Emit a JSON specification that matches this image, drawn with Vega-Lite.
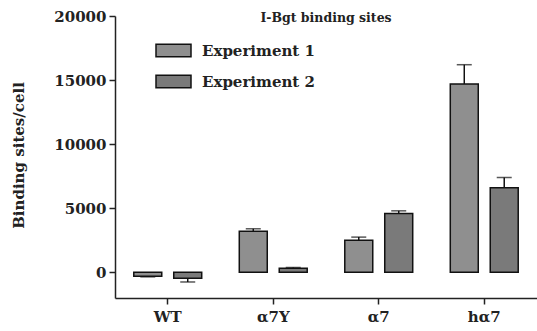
{
  "$schema": "https://vega.github.io/schema/vega-lite/v6.json",
  "autosize": "none",
  "width": 422,
  "height": 282,
  "padding": {"left": 115, "top": 16, "right": 0, "bottom": 33},
  "background": "white",
  "config": {
    "view": {"stroke": null},
    "font": "DejaVu Serif",
    "axis": {"labelFont": "DejaVu Serif", "titleFont": "DejaVu Serif", "labelFontWeight": "bold", "titleFontWeight": "bold", "labelColor": "#222", "titleColor": "#222", "domainColor": "#222", "tickColor": "#222", "domainWidth": 1.5, "tickWidth": 1.5, "grid": false}
  },
  "title": {"text": "I-Bgt binding sites", "font": "DejaVu Serif", "fontSize": 12.5, "fontWeight": "bold", "color": "#222", "anchor": "middle", "orient": "bottom", "offset": -306, "baseline": "middle"},
  "data": {"values": [
    {"cell": "WT", "exp": "Experiment 1", "value": -300, "end": -350},
    {"cell": "WT", "exp": "Experiment 2", "value": -450, "end": -750},
    {"cell": "α7Y", "exp": "Experiment 1", "value": 3200, "end": 3400},
    {"cell": "α7Y", "exp": "Experiment 2", "value": 330, "end": 380},
    {"cell": "α7", "exp": "Experiment 1", "value": 2500, "end": 2750},
    {"cell": "α7", "exp": "Experiment 2", "value": 4600, "end": 4800},
    {"cell": "hα7", "exp": "Experiment 1", "value": 14700, "end": 16200},
    {"cell": "hα7", "exp": "Experiment 2", "value": 6600, "end": 7400}
  ]},
  "encoding": {
    "x": {"field": "cell", "type": "nominal", "sort": null,
      "scale": {"paddingInner": 0, "paddingOuter": 0},
      "axis": {"title": null, "labelAngle": 0, "labelFontSize": 15, "labelPadding": 5, "tickSize": 6}},
    "xOffset": {"field": "exp", "type": "nominal", "scale": {"paddingInner": 0.3, "paddingOuter": 0.47}}
  },
  "layer": [
    {
      "mark": {"type": "bar", "stroke": "#111", "strokeWidth": 1.5},
      "encoding": {
        "y": {"field": "value", "type": "quantitative",
          "scale": {"domain": [-2000, 20000], "nice": false},
          "axis": {"title": "Binding sites/cell", "values": [0, 5000, 10000, 15000, 20000], "format": "d", "labelFontSize": 15, "titleFontSize": 15, "tickSize": 6, "labelPadding": 3, "titleX": -97, "titleY": 139, "titleAngle": -90, "titleAlign": "center", "titleBaseline": "middle"}},
        "fill": {"field": "exp", "type": "nominal",
          "scale": {"range": ["#8f8f8f", "#7a7a7a"]},
          "legend": {"title": null, "orient": "none", "legendX": 40, "legendY": 27, "symbolType": "M-1,-0.36H1V0.36H-1Z", "symbolSize": 1225, "symbolStrokeColor": "#111", "symbolStrokeWidth": 1.5, "labelFont": "DejaVu Serif", "labelFontSize": 15, "labelFontWeight": "bold", "labelColor": "#222", "labelOffset": 10, "clipHeight": 15, "rowPadding": 15}}
      }
    },
    {
      "mark": {"type": "rule", "color": "#111", "strokeWidth": 1.5},
      "encoding": {"y": {"datum": 0}}
    },
    {
      "mark": {"type": "rule", "color": "#111", "strokeWidth": 1.5},
      "encoding": {"y": {"field": "value", "type": "quantitative"}, "y2": {"field": "end"}}
    },
    {
      "mark": {"type": "tick", "color": "#111", "thickness": 1.5, "size": 15},
      "encoding": {"y": {"field": "end", "type": "quantitative"}}
    }
  ]
}
